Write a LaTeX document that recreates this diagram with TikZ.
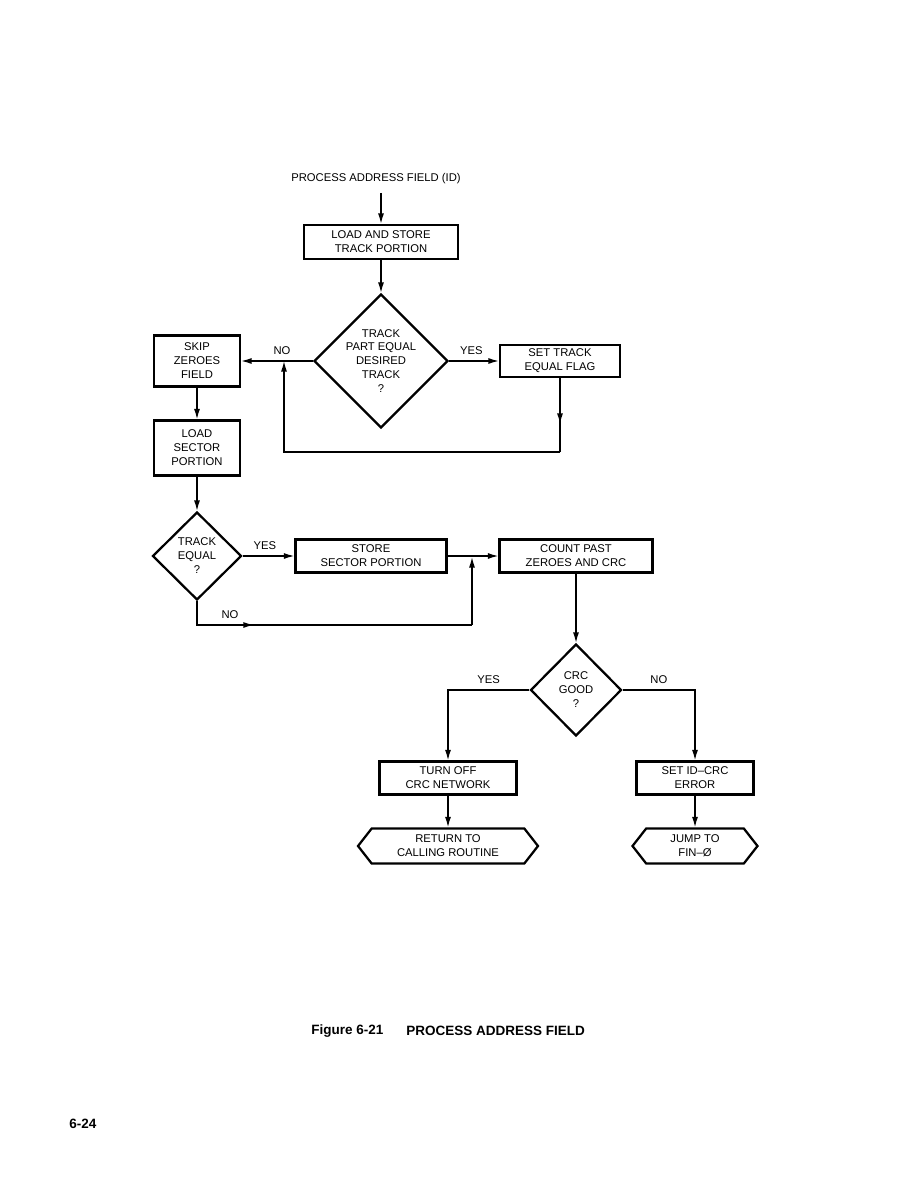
\documentclass[tikz,border=0pt]{standalone}
\usepackage{fontspec}
\setmainfont{Liberation Sans}
\usetikzlibrary{shapes.geometric,shapes.symbols,arrows.meta,decorations.markings}
\newcommand{\px}{0.6667pt}
\begin{document}
\begin{tikzpicture}[x=0.6667pt,y=-0.6667pt,
		every node/.style={font=\fontsize{7.5}{9.3}\selectfont,align=center,inner sep=0pt},
		box/.style={draw,line width=1.5pt},
		decision/.style={draw,line width=1.5pt,shape=diamond},
		hexbox/.style={draw,line width=1.5pt,shape=signal,signal to=east and west,signal pointer angle=104},
		line/.style={line width=0.9pt},
		arrow/.style={line width=0.9pt,-{Latex[length=7pt,width=4pt]}},
		tipat/.style={postaction={decorate},decoration={markings,mark=at position #1 with {\arrow{Latex[length=7pt,width=4pt]}}}}]
		\useasboundingbox (0,0) rectangle (918,1188);
		% top part
		\node (title) at (376,179) {PROCESS ADDRESS FIELD (ID)};
		\coordinate (start) at (381,193);
		\node[box,minimum width=154*\px,minimum height=34*\px] (load) at (381,242) {LOAD AND STORE\\TRACK PORTION};
		\node[decision,minimum width=132*\px,minimum height=134*\px] (trackpart) at (381,361) {TRACK\\PART EQUAL\\DESIRED\\TRACK\\?};
		\node[box,minimum width=86*\px,minimum height=51*\px] (skip) at (197,361) {SKIP\\ZEROES\\FIELD};
		\node[box,minimum width=120*\px,minimum height=32*\px] (settrack) at (560,361) {SET TRACK\\EQUAL FLAG};
		\node[box,minimum width=86*\px,minimum height=55*\px] (loadsec) at (197,448) {LOAD\\SECTOR\\PORTION};
		\coordinate (loopse) at (560,452);
		\coordinate (loopsw) at (284,452);
		\coordinate (nojoin) at (284,361);
		\draw[arrow] (start) -- (load.north);
		\draw[arrow] (load.south) -- (trackpart.north);
		\draw[arrow] (trackpart.west) -- (skip.east) node[pos=0.43,above=4pt] {NO};
		\draw[arrow] (trackpart.east) -- (settrack.west) node[pos=0.45,above=4pt] {YES};
		\draw[line,tipat=0.62] (settrack.south) -- (loopse);
		\draw[arrow] (loopse) -- (loopsw) -- (nojoin);
		\draw[arrow] (skip.south) -- (loadsec.north);
		% sector part
		\node[decision,minimum width=89*\px,minimum height=88*\px] (trackeq) at (197,556) {TRACK\\EQUAL\\?};
		\node[box,minimum width=151*\px,minimum height=33*\px] (store) at (371,556) {STORE\\SECTOR PORTION};
		\node[box,minimum width=153*\px,minimum height=33*\px] (count) at (576,556) {COUNT PAST\\ZEROES AND CRC};
		\coordinate (nosw) at (197,625);
		\coordinate (nose) at (472,625);
		\coordinate (storejoin) at (472,557);
		\draw[arrow] (loadsec.south) -- (trackeq.north);
		\draw[arrow] (trackeq.east) -- (store.west) node[pos=0.43,above=4pt] {YES};
		\draw[arrow] (store.east) -- (count.west);
		\draw[line,tipat=0.27] (trackeq.south) -- (nosw) -- (nose) node[pos=0.12,above=4pt] {NO};
		\draw[arrow] (nose) -- (storejoin);
		% crc part
		\node[decision,minimum width=91*\px,minimum height=92*\px] (crcgood) at (576,690) {CRC\\GOOD\\?};
		\node[box,minimum width=137*\px,minimum height=33*\px] (turnoff) at (448,778) {TURN OFF\\CRC NETWORK};
		\node[box,minimum width=117*\px,minimum height=33*\px] (setid) at (695,778) {SET ID--CRC\\ERROR};
		\node[hexbox,minimum width=180*\px,minimum height=35*\px] (return) at (448,846) {RETURN TO\\CALLING ROUTINE};
		\node[hexbox,minimum width=125*\px,minimum height=35*\px] (jump) at (695,846) {JUMP TO\\FIN--Ø};
		\draw[arrow] (count.south) -- (crcgood.north);
		\draw[arrow] (crcgood.west) -| (turnoff.north) node[pos=0.25,above=4pt] {YES};
		\draw[arrow] (crcgood.east) -| (setid.north) node[pos=0.25,above=4pt] {NO};
		\draw[arrow] (turnoff.south) -- (return.north);
		\draw[arrow] (setid.south) -- (jump.north);
		% caption
		\node[font=\fontsize{9}{11}\selectfont\bfseries,anchor=west] (fignum) at (311,1031) {Figure 6-21};
		\node[font=\fontsize{9}{11}\selectfont\bfseries,anchor=west] (figname) at (406,1031) {PROCESS ADDRESS FIELD};
		\node[font=\fontsize{9}{11}\selectfont\bfseries] (pagenum) at (83,1124) {6-24};
	\end{tikzpicture}
\end{document}
